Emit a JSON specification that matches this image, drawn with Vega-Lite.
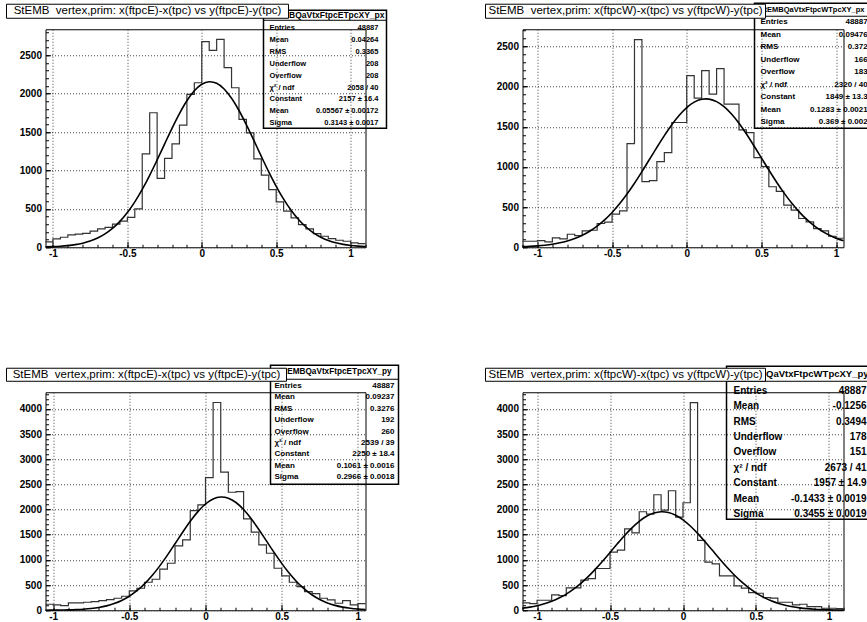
{
  "$schema": "https://vega.github.io/schema/vega-lite/v6.json",
  "background": "white",
  "autosize": {"type": "pad"},
  "padding": {"left": 4.5, "top": 1.25, "right": 0, "bottom": 0},
  "columns": 2,
  "spacing": {"row": 145, "column": 156},
  "bounds": "flush",
  "align": "all",
  "config": {
    "view": {"stroke": "black", "strokeWidth": 1},
    "axis": {"title": null, "domain": false, "gridDash": [1, 2], "gridColor": "#444", "gridWidth": 1, "labelFont": "Liberation Sans", "labelFontWeight": "bold", "labelFontSize": 10, "labelColor": "black", "tickColor": "black", "labelFlush": false, "labelOverlap": false, "labelExpr": "'' + datum.value"},
    "axisX": {"labelPadding": 7, "tickSize": -5},
    "axisY": {"labelPadding": 9, "tickSize": -5},
    "text": {"font": "Liberation Sans"}
  },
  "datasets": {
    "h1": [
      {"x": -1.05, "n": 70}, {"x": -1.0, "n": 110}, {"x": -0.95, "n": 130}, {"x": -0.9, "n": 160}, {"x": -0.85, "n": 170}, {"x": -0.8, "n": 180}, {"x": -0.75, "n": 210}, {"x": -0.7, "n": 240}, {"x": -0.65, "n": 260}, {"x": -0.6, "n": 300}, {"x": -0.55, "n": 340}, {"x": -0.5, "n": 390}, {"x": -0.45, "n": 500}, {"x": -0.4, "n": 1217}, {"x": -0.35, "n": 1752}, {"x": -0.3, "n": 896}, {"x": -0.25, "n": 1157}, {"x": -0.2, "n": 1348}, {"x": -0.15, "n": 1591}, {"x": -0.1, "n": 1991}, {"x": -0.05, "n": 2143}, {"x": 0.0, "n": 2678}, {"x": 0.05, "n": 2565}, {"x": 0.1, "n": 2709}, {"x": 0.15, "n": 2339}, {"x": 0.2, "n": 2078}, {"x": 0.25, "n": 1665}, {"x": 0.3, "n": 1491}, {"x": 0.35, "n": 1152}, {"x": 0.4, "n": 939}, {"x": 0.45, "n": 752}, {"x": 0.5, "n": 591}, {"x": 0.55, "n": 470}, {"x": 0.6, "n": 383}, {"x": 0.65, "n": 296}, {"x": 0.7, "n": 239}, {"x": 0.75, "n": 178}, {"x": 0.8, "n": 143}, {"x": 0.85, "n": 113}, {"x": 0.9, "n": 91}, {"x": 0.95, "n": 78}, {"x": 1.0, "n": 57}, {"x": 1.05, "n": 48}, {"x": 1.1, "n": 48}
    ],
    "h2": [
      {"x": -1.1, "n": 75}, {"x": -1.05, "n": 75}, {"x": -1.0, "n": 83}, {"x": -0.95, "n": 67}, {"x": -0.9, "n": 117}, {"x": -0.85, "n": 104}, {"x": -0.8, "n": 162}, {"x": -0.75, "n": 146}, {"x": -0.7, "n": 204}, {"x": -0.65, "n": 212}, {"x": -0.6, "n": 296}, {"x": -0.55, "n": 312}, {"x": -0.5, "n": 412}, {"x": -0.45, "n": 454}, {"x": -0.4, "n": 1292}, {"x": -0.35, "n": 2587}, {"x": -0.3, "n": 817}, {"x": -0.25, "n": 829}, {"x": -0.2, "n": 1067}, {"x": -0.15, "n": 1179}, {"x": -0.1, "n": 1554}, {"x": -0.05, "n": 1554}, {"x": 0.0, "n": 2137}, {"x": 0.05, "n": 1858}, {"x": 0.1, "n": 2200}, {"x": 0.15, "n": 1908}, {"x": 0.2, "n": 2225}, {"x": 0.25, "n": 1783}, {"x": 0.3, "n": 1783}, {"x": 0.35, "n": 1462}, {"x": 0.4, "n": 1429}, {"x": 0.45, "n": 1117}, {"x": 0.5, "n": 1004}, {"x": 0.55, "n": 754}, {"x": 0.6, "n": 696}, {"x": 0.65, "n": 525}, {"x": 0.7, "n": 462}, {"x": 0.75, "n": 358}, {"x": 0.8, "n": 317}, {"x": 0.85, "n": 233}, {"x": 0.9, "n": 204}, {"x": 0.95, "n": 137}, {"x": 1.0, "n": 112}, {"x": 1.05, "n": 112}
    ],
    "h3": [
      {"x": -1.05, "n": 119}, {"x": -1.0, "n": 106}, {"x": -0.95, "n": 93}, {"x": -0.9, "n": 146}, {"x": -0.85, "n": 146}, {"x": -0.8, "n": 159}, {"x": -0.75, "n": 172}, {"x": -0.7, "n": 192}, {"x": -0.65, "n": 212}, {"x": -0.6, "n": 238}, {"x": -0.55, "n": 278}, {"x": -0.5, "n": 384}, {"x": -0.45, "n": 437}, {"x": -0.4, "n": 556}, {"x": -0.35, "n": 616}, {"x": -0.3, "n": 815}, {"x": -0.25, "n": 934}, {"x": -0.2, "n": 1278}, {"x": -0.15, "n": 1397}, {"x": -0.1, "n": 1980}, {"x": -0.05, "n": 2093}, {"x": 0.0, "n": 2636}, {"x": 0.05, "n": 4126}, {"x": 0.1, "n": 2742}, {"x": 0.15, "n": 2344}, {"x": 0.2, "n": 2358}, {"x": 0.25, "n": 1815}, {"x": 0.3, "n": 1550}, {"x": 0.35, "n": 1298}, {"x": 0.4, "n": 1132}, {"x": 0.45, "n": 834}, {"x": 0.5, "n": 682}, {"x": 0.55, "n": 556}, {"x": 0.6, "n": 470}, {"x": 0.65, "n": 371}, {"x": 0.7, "n": 331}, {"x": 0.75, "n": 238}, {"x": 0.8, "n": 205}, {"x": 0.85, "n": 139}, {"x": 0.9, "n": 192}, {"x": 0.95, "n": 106}, {"x": 1.0, "n": 132}, {"x": 1.05, "n": 132}
    ],
    "h4": [
      {"x": -1.1, "n": 146}, {"x": -1.05, "n": 133}, {"x": -1.0, "n": 199}, {"x": -0.95, "n": 199}, {"x": -0.9, "n": 305}, {"x": -0.85, "n": 292}, {"x": -0.8, "n": 444}, {"x": -0.75, "n": 444}, {"x": -0.7, "n": 597}, {"x": -0.65, "n": 630}, {"x": -0.6, "n": 829}, {"x": -0.55, "n": 829}, {"x": -0.5, "n": 1154}, {"x": -0.45, "n": 1194}, {"x": -0.4, "n": 1618}, {"x": -0.35, "n": 1538}, {"x": -0.3, "n": 1956}, {"x": -0.25, "n": 1910}, {"x": -0.2, "n": 2294}, {"x": -0.15, "n": 1989}, {"x": -0.1, "n": 2374}, {"x": -0.05, "n": 1850}, {"x": 0.0, "n": 2135}, {"x": 0.05, "n": 4125}, {"x": 0.1, "n": 1386}, {"x": 0.15, "n": 955}, {"x": 0.2, "n": 922}, {"x": 0.25, "n": 683}, {"x": 0.3, "n": 683}, {"x": 0.35, "n": 484}, {"x": 0.4, "n": 438}, {"x": 0.45, "n": 351}, {"x": 0.5, "n": 338}, {"x": 0.55, "n": 252}, {"x": 0.6, "n": 239}, {"x": 0.65, "n": 159}, {"x": 0.7, "n": 159}, {"x": 0.75, "n": 106}, {"x": 0.8, "n": 119}, {"x": 0.85, "n": 73}, {"x": 0.9, "n": 73}, {"x": 0.95, "n": 40}, {"x": 1.0, "n": 40}, {"x": 1.05, "n": 33}, {"x": 1.1, "n": 33}
    ],
    "g1": [
      {"x": -1.05, "y": 4.4}, {"x": -1.0, "y": 7.7}, {"x": -0.95, "y": 12.9}, {"x": -0.9, "y": 21.2}, {"x": -0.85, "y": 33.9}, {"x": -0.8, "y": 53.0}, {"x": -0.75, "y": 80.7}, {"x": -0.7, "y": 119.8}, {"x": -0.65, "y": 173.5}, {"x": -0.6, "y": 244.8}, {"x": -0.55, "y": 336.9}, {"x": -0.5, "y": 451.9}, {"x": -0.45, "y": 591.2}, {"x": -0.4, "y": 754.1}, {"x": -0.35, "y": 937.7}, {"x": -0.3, "y": 1137.2}, {"x": -0.25, "y": 1344.1}, {"x": -0.2, "y": 1549.4}, {"x": -0.15, "y": 1741.3}, {"x": -0.1, "y": 1908.1}, {"x": -0.05, "y": 2038.6}, {"x": 0.0, "y": 2123.4}, {"x": 0.05, "y": 2156.7}, {"x": 0.0557, "y": 2157}, {"x": 0.1, "y": 2135.6}, {"x": 0.15, "y": 2062.0}, {"x": 0.2, "y": 1941.1}, {"x": 0.25, "y": 1781.7}, {"x": 0.3, "y": 1594.5}, {"x": 0.35, "y": 1391.3}, {"x": 0.4, "y": 1183.6}, {"x": 0.45, "y": 981.9}, {"x": 0.5, "y": 794.1}, {"x": 0.55, "y": 626.2}, {"x": 0.6, "y": 481.4}, {"x": 0.65, "y": 360.9}, {"x": 0.7, "y": 263.8}, {"x": 0.75, "y": 188.0}, {"x": 0.8, "y": 130.6}, {"x": 0.85, "y": 88.5}, {"x": 0.9, "y": 58.4}, {"x": 0.95, "y": 37.6}, {"x": 1.0, "y": 23.6}, {"x": 1.05, "y": 14.5}, {"x": 1.1, "y": 8.6}
    ],
    "g2": [
      {"x": -1.1, "y": 7.3}, {"x": -1.05, "y": 11.3}, {"x": -1.0, "y": 17.3}, {"x": -0.95, "y": 25.9}, {"x": -0.9, "y": 38.1}, {"x": -0.85, "y": 55.0}, {"x": -0.8, "y": 78.1}, {"x": -0.75, "y": 108.8}, {"x": -0.7, "y": 148.9}, {"x": -0.65, "y": 199.9}, {"x": -0.6, "y": 263.7}, {"x": -0.55, "y": 341.3}, {"x": -0.5, "y": 433.9}, {"x": -0.45, "y": 541.5}, {"x": -0.4, "y": 663.5}, {"x": -0.35, "y": 798.2}, {"x": -0.3, "y": 942.8}, {"x": -0.25, "y": 1093.3}, {"x": -0.2, "y": 1244.7}, {"x": -0.15, "y": 1391.3}, {"x": -0.1, "y": 1526.9}, {"x": -0.05, "y": 1645.3}, {"x": 0.0, "y": 1740.5}, {"x": 0.05, "y": 1807.8}, {"x": 0.1, "y": 1843.6}, {"x": 0.1283, "y": 1849}, {"x": 0.15, "y": 1845.8}, {"x": 0.2, "y": 1814.4}, {"x": 0.25, "y": 1751.1}, {"x": 0.3, "y": 1659.3}, {"x": 0.35, "y": 1543.7}, {"x": 0.4, "y": 1410.1}, {"x": 0.45, "y": 1264.5}, {"x": 0.5, "y": 1113.3}, {"x": 0.55, "y": 962.3}, {"x": 0.6, "y": 816.8}, {"x": 0.65, "y": 680.6}, {"x": 0.7, "y": 556.8}, {"x": 0.75, "y": 447.2}, {"x": 0.8, "y": 352.7}, {"x": 0.85, "y": 273.1}, {"x": 0.9, "y": 207.6}, {"x": 0.95, "y": 154.9}, {"x": 1.0, "y": 113.5}, {"x": 1.05, "y": 81.7}
    ],
    "g3": [
      {"x": -1.05, "y": 1.1}, {"x": -1.0, "y": 2.1}, {"x": -0.95, "y": 4.0}, {"x": -0.9, "y": 7.1}, {"x": -0.85, "y": 12.5}, {"x": -0.8, "y": 21.2}, {"x": -0.75, "y": 34.9}, {"x": -0.7, "y": 56.0}, {"x": -0.65, "y": 87.3}, {"x": -0.6, "y": 132.3}, {"x": -0.55, "y": 194.9}, {"x": -0.5, "y": 278.9}, {"x": -0.45, "y": 388.0}, {"x": -0.4, "y": 524.7}, {"x": -0.35, "y": 689.7}, {"x": -0.3, "y": 881.2}, {"x": -0.25, "y": 1094.4}, {"x": -0.2, "y": 1321.1}, {"x": -0.15, "y": 1549.8}, {"x": -0.1, "y": 1767.4}, {"x": -0.05, "y": 1959.0}, {"x": 0.0, "y": 2110.5}, {"x": 0.05, "y": 2210.1}, {"x": 0.1, "y": 2249.5}, {"x": 0.1061, "y": 2250}, {"x": 0.15, "y": 2225.5}, {"x": 0.2, "y": 2140.0}, {"x": 0.25, "y": 2000.2}, {"x": 0.3, "y": 1817.1}, {"x": 0.35, "y": 1604.5}, {"x": 0.4, "y": 1377.1}, {"x": 0.45, "y": 1148.8}, {"x": 0.5, "y": 931.5}, {"x": 0.55, "y": 734.2}, {"x": 0.6, "y": 562.4}, {"x": 0.65, "y": 418.7}, {"x": 0.7, "y": 303.0}, {"x": 0.75, "y": 213.2}, {"x": 0.8, "y": 145.8}, {"x": 0.85, "y": 96.9}, {"x": 0.9, "y": 62.6}, {"x": 0.95, "y": 39.3}, {"x": 1.0, "y": 24.0}, {"x": 1.05, "y": 14.2}
    ],
    "g4": [
      {"x": -1.1, "y": 42.3}, {"x": -1.05, "y": 62.5}, {"x": -1.0, "y": 90.5}, {"x": -0.95, "y": 128.2}, {"x": -0.9, "y": 177.8}, {"x": -0.85, "y": 241.6}, {"x": -0.8, "y": 321.4}, {"x": -0.75, "y": 418.8}, {"x": -0.7, "y": 534.4}, {"x": -0.65, "y": 667.6}, {"x": -0.6, "y": 817.0}, {"x": -0.55, "y": 978.8}, {"x": -0.5, "y": 1148.6}, {"x": -0.45, "y": 1319.7}, {"x": -0.4, "y": 1485.1}, {"x": -0.35, "y": 1636.3}, {"x": -0.3, "y": 1765.7}, {"x": -0.25, "y": 1865.9}, {"x": -0.2, "y": 1930.8}, {"x": -0.15, "y": 1956.6}, {"x": -0.1433, "y": 1957}, {"x": -0.1, "y": 1941.7}, {"x": -0.05, "y": 1886.9}, {"x": 0.0, "y": 1795.7}, {"x": 0.05, "y": 1673.5}, {"x": 0.1, "y": 1527.3}, {"x": 0.15, "y": 1364.9}, {"x": 0.2, "y": 1194.6}, {"x": 0.25, "y": 1023.7}, {"x": 0.3, "y": 859.2}, {"x": 0.35, "y": 706.2}, {"x": 0.4, "y": 568.4}, {"x": 0.45, "y": 448.0}, {"x": 0.5, "y": 345.7}, {"x": 0.55, "y": 261.3}, {"x": 0.6, "y": 193.4}, {"x": 0.65, "y": 140.2}, {"x": 0.7, "y": 99.5}, {"x": 0.75, "y": 69.2}, {"x": 0.8, "y": 47.1}, {"x": 0.85, "y": 31.4}, {"x": 0.9, "y": 20.5}, {"x": 0.95, "y": 13.1}, {"x": 1.0, "y": 8.2}, {"x": 1.05, "y": 5.0}, {"x": 1.1, "y": 3.0}
    ]
  },
  "concat": [
    {
      "width": 320, "height": 218,
      "resolve": {"axis": {"x": "independent", "y": "independent"}},
      "layer": [
        {"data": {"name": "h1"}, "mark": {"type": "line", "interpolate": "step-after", "stroke": "#333", "strokeWidth": 1.2},
         "encoding": {
           "x": {"field": "x", "type": "quantitative", "scale": {"domain": [-1.05, 1.1], "nice": false, "zero": false},
                 "axis": {"orient": "bottom", "values": [-1, -0.5, 0, 0.5, 1], "grid": true, "tickSize": -6}},
           "y": {"field": "n", "type": "quantitative", "scale": {"domain": [0, 2840], "nice": false},
                 "axis": {"orient": "left", "values": [0, 500, 1000, 1500, 2000, 2500], "grid": true, "tickSize": -5}}
         }},
        {"data": {"name": "g1"}, "mark": {"type": "line", "interpolate": "monotone", "stroke": "black", "strokeWidth": 1.6},
         "encoding": {
           "x": {"field": "x", "type": "quantitative", "axis": {"orient": "bottom", "values": [-1, -0.9, -0.8, -0.7, -0.6, -0.5, -0.4, -0.3, -0.2, -0.1, 0, 0.1, 0.2, 0.3, 0.4, 0.5, 0.6, 0.7, 0.8, 0.9, 1, 1.1], "labels": false, "grid": false, "tickSize": -3}},
           "y": {"field": "y", "type": "quantitative", "axis": {"orient": "left", "values": [0, 100, 200, 300, 400, 500, 600, 700, 800, 900, 1000, 1100, 1200, 1300, 1400, 1500, 1600, 1700, 1800, 1900, 2000, 2100, 2200, 2300, 2400, 2500, 2600, 2700, 2800], "labels": false, "grid": false, "tickSize": -3}}
         }},
        {"data": {"values": [{}]}, "mark": {"type": "rect", "filled": false, "stroke": "black", "strokeWidth": 1.5, "clip": false},
         "encoding": {"x": {"datum": 0.4147, "axis": null}, "x2": {"datum": 1.241}, "y": {"datum": 3088, "axis": null}, "y2": {"datum": 1550}}},
        {"data": {"values": [{}]}, "mark": {"type": "rule", "stroke": "black", "strokeWidth": 1, "clip": false},
         "encoding": {"x": {"datum": 0.4147, "axis": null}, "x2": {"datum": 1.241}, "y": {"datum": 2957, "axis": null}}},
        {"data": {"values": [{}]}, "mark": {"type": "text", "text": "StEMBQaVtxFtpcETpcXY_px", "align": "right", "baseline": "middle", "fontWeight": "bold", "fontSize": 8.5, "clip": false},
         "encoding": {"x": {"datum": 1.2276, "axis": null}, "y": {"datum": 3022, "axis": null}}},
        {"data": {"values": [{}]}, "mark": {"type": "text", "text": ["Entries", "Mean", "RMS", "Underflow", "Overflow", "χ² / ndf", "Constant", "Mean", "Sigma"], "align": "left", "baseline": "alphabetic", "lineHeight": 11.9, "fontWeight": "bold", "fontSize": 7.5, "clip": false},
         "encoding": {"x": {"datum": 0.455, "axis": null}, "y": {"datum": 2830, "axis": null}}},
        {"data": {"values": [{}]}, "mark": {"type": "text", "text": ["48887", "0.04264", "0.3365", "208", "208", "2058 / 40", "2157 ± 16.4", "0.05567 ± 0.00172", "0.3143 ± 0.0017"], "align": "right", "baseline": "alphabetic", "lineHeight": 11.9, "fontWeight": "bold", "fontSize": 7.5, "clip": false},
         "encoding": {"x": {"datum": 1.187, "axis": null}, "y": {"datum": 2830, "axis": null}}},
        {"data": {"values": [{}]}, "mark": {"type": "rect", "fill": "white", "stroke": "black", "strokeWidth": 1, "clip": false},
         "encoding": {"x": {"datum": -1.312, "axis": null}, "x2": {"datum": 0.5826}, "y": {"datum": 3166, "axis": null}, "y2": {"datum": 2983}}},
        {"data": {"values": [{}]}, "mark": {"type": "text", "text": "StEMB\u00a0 vertex,prim: x(ftpcE)-x(tpc) vs y(ftpcE)-y(tpc)", "align": "center", "baseline": "middle", "fontSize": 11.5, "clip": false},
         "encoding": {"x": {"datum": -0.3647, "axis": null}, "y": {"datum": 3075, "axis": null}}}
      ]
    },
    {
      "width": 321, "height": 218,
      "resolve": {"axis": {"x": "independent", "y": "independent"}},
      "layer": [
        {"data": {"name": "h2"}, "mark": {"type": "line", "interpolate": "step-after", "stroke": "#333", "strokeWidth": 1.2},
         "encoding": {
           "x": {"field": "x", "type": "quantitative", "scale": {"domain": [-1.1, 1.05], "nice": false, "zero": false},
                 "axis": {"orient": "bottom", "values": [-1, -0.5, 0, 0.5, 1], "grid": true, "tickSize": -6}},
           "y": {"field": "n", "type": "quantitative", "scale": {"domain": [0, 2716], "nice": false},
                 "axis": {"orient": "left", "values": [0, 500, 1000, 1500, 2000, 2500], "grid": true, "tickSize": -5}}
         }},
        {"data": {"name": "g2"}, "mark": {"type": "line", "interpolate": "monotone", "stroke": "black", "strokeWidth": 1.6},
         "encoding": {
           "x": {"field": "x", "type": "quantitative", "axis": {"orient": "bottom", "values": [-1.1, -1, -0.9, -0.8, -0.7, -0.6, -0.5, -0.4, -0.3, -0.2, -0.1, 0, 0.1, 0.2, 0.3, 0.4, 0.5, 0.6, 0.7, 0.8, 0.9, 1], "labels": false, "grid": false, "tickSize": -3}},
           "y": {"field": "y", "type": "quantitative", "axis": {"orient": "left", "values": [0, 100, 200, 300, 400, 500, 600, 700, 800, 900, 1000, 1100, 1200, 1300, 1400, 1500, 1600, 1700, 1800, 1900, 2000, 2100, 2200, 2300, 2400, 2500, 2600, 2700], "labels": false, "grid": false, "tickSize": -3}}
         }},
        {"data": {"values": [{}]}, "mark": {"type": "rect", "filled": false, "stroke": "black", "strokeWidth": 1.5, "clip": false},
         "encoding": {"x": {"datum": 0.454, "axis": null}, "x2": {"datum": 1.311}, "y": {"datum": 3040, "axis": null}, "y2": {"datum": 1483}}},
        {"data": {"values": [{}]}, "mark": {"type": "rule", "stroke": "black", "strokeWidth": 1, "clip": false},
         "encoding": {"x": {"datum": 0.454, "axis": null}, "x2": {"datum": 1.311}, "y": {"datum": 2878, "axis": null}}},
        {"data": {"values": [{}]}, "mark": {"type": "text", "text": "StEMBQaVtxFtpcWTpcXY_px", "align": "right", "baseline": "middle", "fontWeight": "bold", "fontSize": 7.5, "clip": false},
         "encoding": {"x": {"datum": 1.1907, "axis": null}, "y": {"datum": 2953, "axis": null}}},
        {"data": {"values": [{}]}, "mark": {"type": "text", "text": ["Entries", "Mean", "RMS", "Underflow", "Overflow", "χ² / ndf", "Constant", "Mean", "Sigma"], "align": "left", "baseline": "alphabetic", "lineHeight": 12.5, "fontWeight": "bold", "fontSize": 8, "clip": false},
         "encoding": {"x": {"datum": 0.494, "axis": null}, "y": {"datum": 2781, "axis": null}}},
        {"data": {"values": [{}]}, "mark": {"type": "text", "text": ["48887", "0.09476", "0.372", "166", "183", "2320 / 40", "1849 ± 13.3", "0.1283 ± 0.0021", "0.369 ± 0.002"], "align": "right", "baseline": "alphabetic", "lineHeight": 12.5, "fontWeight": "bold", "fontSize": 8, "clip": false},
         "encoding": {"x": {"datum": 1.212, "axis": null}, "y": {"datum": 2781, "axis": null}}},
        {"data": {"values": [{}]}, "mark": {"type": "rect", "fill": "white", "stroke": "black", "strokeWidth": 1, "clip": false},
         "encoding": {"x": {"datum": -1.3478, "axis": null}, "x2": {"datum": 0.5276}, "y": {"datum": 3028, "axis": null}, "y2": {"datum": 2853}}},
        {"data": {"values": [{}]}, "mark": {"type": "text", "text": "StEMB\u00a0 vertex,prim: x(ftpcW)-x(tpc) vs y(ftpcW)-y(tpc)", "align": "center", "baseline": "middle", "fontSize": 11.5, "clip": false},
         "encoding": {"x": {"datum": -0.4101, "axis": null}, "y": {"datum": 2940, "axis": null}}}
      ]
    },
    {
      "width": 320, "height": 218,
      "resolve": {"axis": {"x": "independent", "y": "independent"}},
      "layer": [
        {"data": {"name": "h3"}, "mark": {"type": "line", "interpolate": "step-after", "stroke": "#333", "strokeWidth": 1.2},
         "encoding": {
           "x": {"field": "x", "type": "quantitative", "scale": {"domain": [-1.05, 1.05], "nice": false, "zero": false},
                 "axis": {"orient": "bottom", "values": [-1, -0.5, 0, 0.5, 1], "grid": true, "tickSize": -6}},
           "y": {"field": "n", "type": "quantitative", "scale": {"domain": [0, 4330], "nice": false},
                 "axis": {"orient": "left", "values": [0, 500, 1000, 1500, 2000, 2500, 3000, 3500, 4000], "grid": true, "tickSize": -5}}
         }},
        {"data": {"name": "g3"}, "mark": {"type": "line", "interpolate": "monotone", "stroke": "black", "strokeWidth": 1.6},
         "encoding": {
           "x": {"field": "x", "type": "quantitative", "axis": {"orient": "bottom", "values": [-1, -0.9, -0.8, -0.7, -0.6, -0.5, -0.4, -0.3, -0.2, -0.1, 0, 0.1, 0.2, 0.3, 0.4, 0.5, 0.6, 0.7, 0.8, 0.9, 1], "labels": false, "grid": false, "tickSize": -3}},
           "y": {"field": "y", "type": "quantitative", "axis": {"orient": "left", "values": [0, 100, 200, 300, 400, 500, 600, 700, 800, 900, 1000, 1100, 1200, 1300, 1400, 1500, 1600, 1700, 1800, 1900, 2000, 2100, 2200, 2300, 2400, 2500, 2600, 2700, 2800, 2900, 3000, 3100, 3200, 3300, 3400, 3500, 3600, 3700, 3800, 3900, 4000, 4100, 4200, 4300], "labels": false, "grid": false, "tickSize": -3}}
         }},
        {"data": {"values": [{}]}, "mark": {"type": "rect", "filled": false, "stroke": "black", "strokeWidth": 1.5, "clip": false},
         "encoding": {"x": {"datum": 0.4266, "axis": null}, "x2": {"datum": 1.2666}, "y": {"datum": 4866, "axis": null}, "y2": {"datum": 2503}}},
        {"data": {"values": [{}]}, "mark": {"type": "rule", "stroke": "black", "strokeWidth": 1, "clip": false},
         "encoding": {"x": {"datum": 0.4266, "axis": null}, "x2": {"datum": 1.2666}, "y": {"datum": 4588, "axis": null}}},
        {"data": {"values": [{}]}, "mark": {"type": "text", "text": "StEMBQaVtxFtpcETpcXY_py", "align": "right", "baseline": "middle", "fontWeight": "bold", "fontSize": 8.2, "clip": false},
         "encoding": {"x": {"datum": 1.2206, "axis": null}, "y": {"datum": 4727, "axis": null}}},
        {"data": {"values": [{}]}, "mark": {"type": "text", "text": ["Entries", "Mean", "RMS", "Underflow", "Overflow", "χ² / ndf", "Constant", "Mean", "Sigma"], "align": "left", "baseline": "alphabetic", "lineHeight": 11.4, "fontWeight": "bold", "fontSize": 8, "clip": false},
         "encoding": {"x": {"datum": 0.4528, "axis": null}, "y": {"datum": 4413, "axis": null}}},
        {"data": {"values": [{}]}, "mark": {"type": "text", "text": ["48887", "0.09237", "0.3276", "192", "260", "2539 / 39", "2250 ± 18.4", "0.1061 ± 0.0016", "0.2966 ± 0.0018"], "align": "right", "baseline": "alphabetic", "lineHeight": 11.4, "fontWeight": "bold", "fontSize": 8, "clip": false},
         "encoding": {"x": {"datum": 1.2403, "axis": null}, "y": {"datum": 4413, "axis": null}}},
        {"data": {"values": [{}]}, "mark": {"type": "rect", "fill": "white", "stroke": "black", "strokeWidth": 1, "clip": false},
         "encoding": {"x": {"datum": -1.306, "axis": null}, "x2": {"datum": 0.5316}, "y": {"datum": 4807, "axis": null}, "y2": {"datum": 4548}}},
        {"data": {"values": [{}]}, "mark": {"type": "text", "text": "StEMB\u00a0 vertex,prim: x(ftpcE)-x(tpc) vs y(ftpcE)-y(tpc)", "align": "center", "baseline": "middle", "fontSize": 11.5, "clip": false},
         "encoding": {"x": {"datum": -0.3872, "axis": null}, "y": {"datum": 4678, "axis": null}}}
      ]
    },
    {
      "width": 321, "height": 218,
      "resolve": {"axis": {"x": "independent", "y": "independent"}},
      "layer": [
        {"data": {"name": "h4"}, "mark": {"type": "line", "interpolate": "step-after", "stroke": "#333", "strokeWidth": 1.2},
         "encoding": {
           "x": {"field": "x", "type": "quantitative", "scale": {"domain": [-1.1, 1.1], "nice": false, "zero": false},
                 "axis": {"orient": "bottom", "values": [-1, -0.5, 0, 0.5, 1], "grid": true, "tickSize": -6}},
           "y": {"field": "n", "type": "quantitative", "scale": {"domain": [0, 4330], "nice": false},
                 "axis": {"orient": "left", "values": [0, 500, 1000, 1500, 2000, 2500, 3000, 3500, 4000], "grid": true, "tickSize": -5}}
         }},
        {"data": {"name": "g4"}, "mark": {"type": "line", "interpolate": "monotone", "stroke": "black", "strokeWidth": 1.6},
         "encoding": {
           "x": {"field": "x", "type": "quantitative", "axis": {"orient": "bottom", "values": [-1.1, -1, -0.9, -0.8, -0.7, -0.6, -0.5, -0.4, -0.3, -0.2, -0.1, 0, 0.1, 0.2, 0.3, 0.4, 0.5, 0.6, 0.7, 0.8, 0.9, 1, 1.1], "labels": false, "grid": false, "tickSize": -3}},
           "y": {"field": "y", "type": "quantitative", "axis": {"orient": "left", "values": [0, 100, 200, 300, 400, 500, 600, 700, 800, 900, 1000, 1100, 1200, 1300, 1400, 1500, 1600, 1700, 1800, 1900, 2000, 2100, 2200, 2300, 2400, 2500, 2600, 2700, 2800, 2900, 3000, 3100, 3200, 3300, 3400, 3500, 3600, 3700, 3800, 3900, 4000, 4100, 4200, 4300], "labels": false, "grid": false, "tickSize": -3}}
         }},
        {"data": {"values": [{}]}, "mark": {"type": "rect", "filled": false, "stroke": "black", "strokeWidth": 1.5, "clip": false},
         "encoding": {"x": {"datum": 0.2982, "axis": null}, "x2": {"datum": 1.3674}, "y": {"datum": 4846, "axis": null}, "y2": {"datum": 1807}}},
        {"data": {"values": [{}]}, "mark": {"type": "rule", "stroke": "black", "strokeWidth": 1, "clip": false},
         "encoding": {"x": {"datum": 0.2982, "axis": null}, "x2": {"datum": 1.3674}, "y": {"datum": 4548, "axis": null}}},
        {"data": {"values": [{}]}, "mark": {"type": "text", "text": "StEMBQaVtxFtpcWTpcXY_py", "align": "right", "baseline": "middle", "fontWeight": "bold", "fontSize": 9.5, "clip": false},
         "encoding": {"x": {"datum": 1.2715, "axis": null}, "y": {"datum": 4697, "axis": null}}},
        {"data": {"values": [{}]}, "mark": {"type": "text", "text": ["Entries", "Mean", "RMS", "Underflow", "Overflow", "χ² / ndf", "Constant", "Mean", "Sigma"], "align": "left", "baseline": "alphabetic", "lineHeight": 15.4, "fontWeight": "bold", "fontSize": 10, "clip": false},
         "encoding": {"x": {"datum": 0.3462, "axis": null}, "y": {"datum": 4300, "axis": null}}},
        {"data": {"values": [{}]}, "mark": {"type": "text", "text": ["48887", "-0.1256", "0.3494", "178", "151", "2673 / 41", "1957 ± 14.9", "-0.1433 ± 0.0019", "0.3455 ± 0.0019"], "align": "right", "baseline": "alphabetic", "lineHeight": 15.4, "fontWeight": "bold", "fontSize": 10, "clip": false},
         "encoding": {"x": {"datum": 1.2578, "axis": null}, "y": {"datum": 4300, "axis": null}}},
        {"data": {"values": [{}]}, "mark": {"type": "rect", "fill": "white", "stroke": "black", "strokeWidth": 1, "clip": false},
         "encoding": {"x": {"datum": -1.3536, "axis": null}, "x2": {"datum": 0.5655}, "y": {"datum": 4807, "axis": null}, "y2": {"datum": 4548}}},
        {"data": {"values": [{}]}, "mark": {"type": "text", "text": "StEMB\u00a0 vertex,prim: x(ftpcW)-x(tpc) vs y(ftpcW)-y(tpc)", "align": "center", "baseline": "middle", "fontSize": 11.5, "clip": false},
         "encoding": {"x": {"datum": -0.394, "axis": null}, "y": {"datum": 4678, "axis": null}}}
      ]
    }
  ]
}
